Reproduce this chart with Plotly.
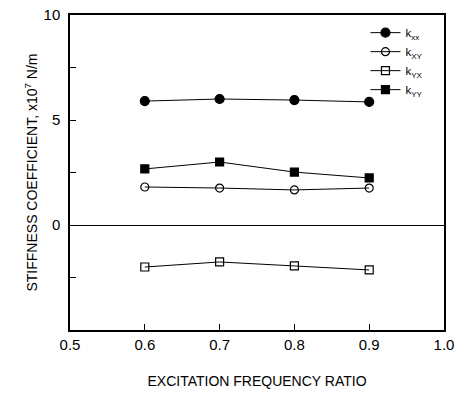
import plotly.graph_objects as go

ratio = [0.6, 0.7, 0.8, 0.9]
k_xx = [5.90, 6.00, 5.95, 5.86]
k_xy = [1.81, 1.76, 1.67, 1.76]
k_yx = [-2.00, -1.76, -1.95, -2.14]
k_yy = [2.67, 3.00, 2.52, 2.24]

names = ["k<sub>xx</sub>", "k<sub>XY</sub>", "k<sub>YX</sub>", "k<sub>YY</sub>"]
symbols = ["circle", "circle-open", "square-open", "square"]
sizes = [9, 8, 8, 8]
series = [k_xx, k_xy, k_yx, k_yy]

FONT = "Liberation Sans, Arial, sans-serif"

fig = go.Figure()
for name, vals, sym, sz in zip(names, series, symbols, sizes):
    fig.add_trace(go.Scatter(
        x=ratio, y=vals, name=name, mode="lines+markers",
        line=dict(color="black", width=1),
        marker=dict(symbol=sym, size=sz, color="black",
                    line=dict(color="black", width=1.2)),
    ))

fig.update_layout(
    width=462, height=399,
    margin=dict(l=70, r=18, t=15, b=69, autoexpand=False),
    paper_bgcolor="white", plot_bgcolor="white",
    font=dict(family=FONT, color="black", size=14),
    showlegend=True,
    legend=dict(x=0.79, y=0.99, xanchor="left", yanchor="top",
                bgcolor="rgba(0,0,0,0)", borderwidth=0,
                font=dict(size=11.5, family=FONT), tracegroupgap=0,
                itemwidth=30),
    xaxis=dict(
        range=[0.5, 1.0], tickvals=[0.5, 0.6, 0.7, 0.8, 0.9, 1.0],
        ticktext=["0.5", "0.6", "0.7", "0.8", "0.9", "1.0"],
        ticks="inside", ticklen=6, tickcolor="black", tickwidth=1,
        showline=True, linecolor="black", linewidth=1.5, mirror=True,
        showgrid=False, zeroline=False, automargin=False,
        tickfont=dict(size=15, family=FONT),
        title=dict(text="EXCITATION FREQUENCY RATIO", standoff=24,
                   font=dict(size=14, family=FONT)),
    ),
    yaxis=dict(
        range=[-5, 10], tickvals=[0, 5, 10], ticktext=["0", "5", "10"],
        ticks="inside", ticklen=6, tickcolor="black", tickwidth=1,
        minor=dict(tickvals=[-2.5, 2.5, 7.5], ticks="inside", ticklen=6,
                   tickcolor="black", tickwidth=1),
        showline=True, linecolor="black", linewidth=1.5, mirror=True,
        showgrid=False, zeroline=True, zerolinecolor="black", zerolinewidth=1,
        tickfont=dict(size=15, family=FONT), ticklabelstandoff=5,
        automargin=False,
        title=dict(text="STIFFNESS COEFFICIENT, x10<sup>7</sup> N/m", standoff=3,
                   font=dict(size=14, family=FONT)),
    ),
)

fig.write_html("out.html")
